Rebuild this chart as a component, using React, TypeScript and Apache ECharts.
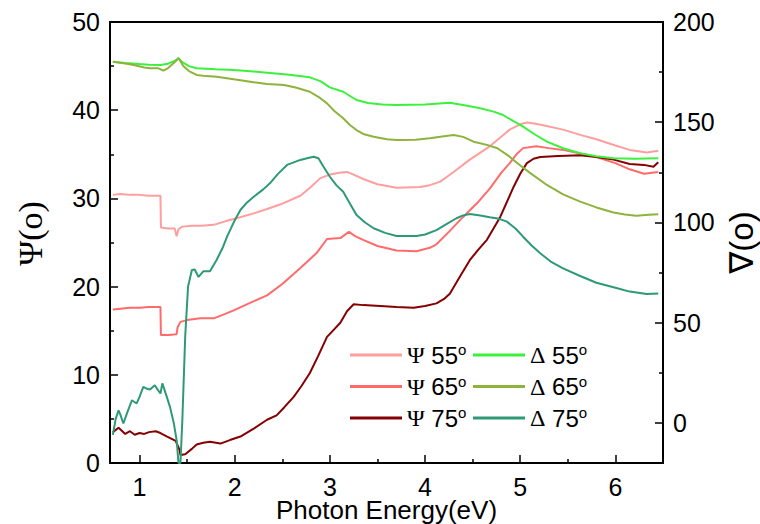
import React, { useEffect, useRef } from "react";
import * as echarts from "echarts";

// ---- data (x = photon energy eV, y = angle in degrees) ----
const psi55: number[][] = [[0.72,30.4],[0.8,30.5],[0.9,30.4],[1.0,30.4],[1.1,30.3],[1.22,30.3],[1.225,26.7],[1.3,26.6],[1.37,26.6],[1.39,25.7],[1.41,26.5],[1.45,26.8],[1.55,26.9],[1.65,26.9],[1.78,27.0],[1.9,27.4],[2.0,27.7],[2.2,28.3],[2.34,28.8],[2.5,29.4],[2.69,30.3],[2.8,31.3],[2.9,32.3],[3.0,32.7],[3.1,32.9],[3.18,33.0],[3.25,32.7],[3.35,32.2],[3.5,31.6],[3.7,31.2],[3.95,31.3],[4.05,31.5],[4.16,31.9],[4.3,33.0],[4.47,34.4],[4.68,35.9],[4.8,37.0],[4.89,37.8],[5.0,38.4],[5.07,38.6],[5.15,38.5],[5.24,38.3],[5.45,37.8],[5.63,37.2],[5.8,36.7],[6.0,36.0],[6.15,35.5],[6.33,35.2],[6.45,35.4]];
const psi65: number[][] = [[0.72,17.4],[0.8,17.5],[0.9,17.6],[1.0,17.6],[1.1,17.7],[1.22,17.7],[1.225,14.5],[1.3,14.5],[1.39,14.6],[1.4,15.4],[1.43,16.0],[1.5,16.2],[1.64,16.4],[1.78,16.4],[1.9,16.9],[1.99,17.3],[2.15,18.1],[2.34,19.0],[2.5,20.3],[2.69,22.1],[2.86,23.8],[2.97,25.4],[3.11,25.5],[3.2,26.2],[3.27,25.7],[3.35,25.3],[3.5,24.6],[3.7,24.1],[3.91,24.0],[4.05,24.4],[4.12,24.8],[4.25,26.2],[4.4,27.9],[4.55,29.5],[4.68,31.1],[4.8,32.9],[4.89,34.0],[4.96,35.0],[5.03,35.7],[5.17,35.9],[5.3,35.7],[5.45,35.5],[5.63,35.1],[5.8,34.7],[6.0,34.0],[6.15,33.3],[6.3,32.8],[6.45,33.0]];
const psi75: number[][] = [[0.72,3.5],[0.78,4.0],[0.85,3.3],[0.9,3.6],[0.95,3.2],[1.0,3.4],[1.05,3.3],[1.1,3.5],[1.17,3.6],[1.22,3.4],[1.29,3.0],[1.38,2.5],[1.42,1.5],[1.43,0.9],[1.48,1.0],[1.55,1.6],[1.6,2.1],[1.67,2.3],[1.74,2.4],[1.85,2.2],[1.95,2.6],[2.06,3.0],[2.2,3.9],[2.34,4.9],[2.44,5.4],[2.52,6.3],[2.62,7.5],[2.7,8.7],[2.79,10.2],[2.88,12.2],[2.97,14.3],[3.04,15.1],[3.11,15.9],[3.18,17.2],[3.25,18.0],[3.35,17.9],[3.53,17.8],[3.7,17.7],[3.88,17.6],[4.0,17.8],[4.12,18.1],[4.2,18.6],[4.26,19.2],[4.37,21.2],[4.47,23.0],[4.56,24.2],[4.65,25.3],[4.79,27.9],[4.93,31.3],[5.0,32.8],[5.07,34.0],[5.14,34.5],[5.21,34.7],[5.4,34.8],[5.63,34.9],[5.8,34.7],[5.98,34.4],[6.15,33.9],[6.3,33.8],[6.4,33.6],[6.45,34.1]];
const delta55: number[][] = [[0.72,180.2],[0.85,179.5],[1.0,179.0],[1.1,178.7],[1.22,178.5],[1.3,179.2],[1.38,180.8],[1.41,182.0],[1.45,180.0],[1.52,178.0],[1.6,176.9],[1.8,176.4],[1.99,176.0],[2.2,175.3],[2.34,174.7],[2.55,173.8],[2.79,172.4],[2.9,170.5],[3.0,167.4],[3.14,165.2],[3.28,161.1],[3.4,159.6],[3.55,158.9],[3.7,158.6],[4.0,158.9],[4.26,159.7],[4.4,158.6],[4.58,157.0],[4.72,155.3],[4.82,153.6],[4.93,150.5],[5.03,147.8],[5.15,144.0],[5.28,140.3],[5.45,137.0],[5.63,134.5],[5.8,133.0],[5.98,132.0],[6.2,131.8],[6.45,132.0]];
const delta65: number[][] = [[0.72,180.2],[0.85,179.3],[0.94,178.5],[1.05,177.3],[1.11,176.9],[1.2,176.9],[1.25,175.7],[1.3,177.0],[1.36,179.5],[1.41,181.9],[1.46,178.0],[1.52,175.5],[1.6,173.6],[1.7,173.0],[1.81,172.7],[1.99,171.4],[2.2,170.0],[2.34,169.1],[2.52,168.6],[2.65,167.2],[2.79,165.2],[2.9,162.0],[2.97,159.4],[3.05,155.5],[3.14,152.0],[3.21,148.6],[3.28,146.1],[3.36,144.0],[3.46,142.8],[3.6,141.5],[3.7,141.1],[3.9,141.3],[4.05,142.0],[4.2,143.0],[4.3,143.6],[4.4,142.7],[4.51,140.3],[4.65,138.7],[4.76,137.0],[4.87,133.5],[4.97,129.5],[5.11,124.5],[5.28,118.7],[5.45,114.0],[5.63,110.4],[5.8,107.5],[5.98,105.0],[6.1,104.0],[6.22,103.4],[6.35,103.8],[6.45,104.1]];
const delta75: number[][] = [[0.72,-6.0],[0.75,2],[0.78,6.3],[0.8,4],[0.83,-0.3],[0.87,5],[0.92,11.3],[0.97,9.7],[1.0,13],[1.04,18.0],[1.08,17],[1.11,16.7],[1.16,18.8],[1.2,16],[1.22,14.7],[1.24,19.7],[1.28,14],[1.32,8.0],[1.36,0],[1.39,-8.6],[1.41,-20],[1.43,-20],[1.45,1.3],[1.48,43.0],[1.51,68.0],[1.55,76.3],[1.58,76.5],[1.62,72.8],[1.67,75.6],[1.74,75.6],[1.81,81.3],[1.87,87],[1.92,92.9],[2.0,101],[2.06,106.2],[2.13,110],[2.2,112.8],[2.3,116.5],[2.37,119.5],[2.45,124],[2.55,128.7],[2.62,130],[2.69,131.2],[2.76,132.0],[2.83,132.8],[2.88,132],[2.93,128],[3.0,122.8],[3.07,118.5],[3.14,115.3],[3.21,109.5],[3.28,103.7],[3.37,100],[3.46,97.1],[3.58,94.8],[3.7,93.2],[3.91,93.2],[4.0,94.0],[4.12,96.2],[4.22,99],[4.33,102.1],[4.4,103.5],[4.47,104.2],[4.58,103.5],[4.68,102.6],[4.78,101.8],[4.86,100.4],[4.95,97],[5.03,92.9],[5.12,88.5],[5.21,84.6],[5.32,80.5],[5.45,77.1],[5.63,73.3],[5.8,69.9],[6.0,67.4],[6.15,65.5],[6.33,64.3],[6.45,64.6]];

const seriesNames = ["Ψ 55", "Ψ 65", "Ψ 75", "Δ 55", "Δ 65", "Δ 75"];
const xMajorTicks = [1, 2, 3, 4, 5, 6];
const xMinorTicks = [1.5, 2.5, 3.5, 4.5, 5.5];
const rightMajorTicks = [0, 50, 100, 150, 200];
const rightMinorTicks = [25, 75, 125, 175];

const SANS = "'Liberation Sans', Arial, 'DejaVu Sans', sans-serif";
const SERIF = "'Liberation Serif', 'Times New Roman', 'DejaVu Serif', serif";
const colors = ["#FF9E9E", "#FF6B6B", "#850000", "#3DF03D", "#8DB33C", "#2E9A75"];

export default function App() {
  const ref = useRef<HTMLDivElement>(null);
  useEffect(() => {
    if (!ref.current) return;
    const chart = echarts.init(ref.current, undefined, { renderer: "svg" });
    const datas = [psi55, psi65, psi75, delta55, delta65, delta75];
    const axisLine = { show: true, onZero: false, lineStyle: { color: "#000", width: 2 } };
    const legendText = {
      color: "#000",
      fontSize: 24,
      fontFamily: SANS,
      lineHeight: 26,
      rich: {
        g: { fontFamily: SERIF, fontSize: 24, color: "#000", lineHeight: 26 },
        n: { fontFamily: SANS, fontSize: 24, color: "#000", lineHeight: 26 },
        s: { fontFamily: SANS, fontSize: 15, color: "#000", verticalAlign: "top", lineHeight: 26 },
      },
    };
    const legendFmt = (name: string) => `{g|${name[0]}}{n|${name.slice(1)}}{s|o}`;
    const option: any = {
      animation: false,
      backgroundColor: "#fff",
      grid: { left: 110, right: 97, top: 22, bottom: 61, show: true, borderColor: "#000", borderWidth: 2, backgroundColor: "transparent", outerBoundsMode: "none", containLabel: false },
      legend: [
        { data: seriesNames.slice(0, 3), orient: "vertical", left: 345, top: 337, icon: "rect", itemWidth: 52, itemHeight: 3, itemGap: 5.5, textStyle: legendText, formatter: legendFmt },
        { data: seriesNames.slice(3), orient: "vertical", left: 468, top: 337, icon: "rect", itemWidth: 52, itemHeight: 3, itemGap: 5.5, textStyle: legendText, formatter: legendFmt },
      ],
      xAxis: [
        {
          type: "value", min: 0.69, max: 6.5, position: "bottom",
          axisLine,
          axisTick: { show: true, inside: true, length: 8, lineStyle: { color: "#000", width: 1.5 }, customValues: xMajorTicks },
          axisLabel: { customValues: xMajorTicks, color: "#000", fontSize: 25, fontFamily: SANS, margin: 11 },
          splitLine: { show: false },
          name: "Photon Energy(eV)", nameLocation: "middle", nameGap: 34, nameMoveOverlap: false,
          nameTextStyle: { color: "#000", fontSize: 26, fontFamily: SANS },
        },
        {
          type: "value", min: 0.69, max: 6.5, position: "bottom",
          axisLine: { show: false },
          axisTick: { show: true, inside: true, length: 4, lineStyle: { color: "#000", width: 1.5 }, customValues: xMinorTicks },
          axisLabel: { show: false }, splitLine: { show: false },
        },
      ],
      yAxis: [
        {
          type: "value", min: 0, max: 50, interval: 10, position: "left",
          axisLine,
          axisTick: { show: true, inside: true, length: 8, lineStyle: { color: "#000", width: 1.5 } },
          minorTick: { show: true, splitNumber: 2, length: 4, lineStyle: { color: "#000", width: 1.5 } },
          axisLabel: { color: "#000", fontSize: 25, fontFamily: SANS, margin: 10 },
          splitLine: { show: false }, minorSplitLine: { show: false },
          name: "Ψ(o)", nameLocation: "middle", nameGap: 63, nameRotate: 90, nameMoveOverlap: false,
          nameTextStyle: { color: "#000", fontSize: 34, fontFamily: SERIF, padding: [0, 0, 0, 18] },
        },
        {
          type: "value", min: -20, max: 200, position: "right",
          axisLine,
          axisTick: { show: true, inside: true, length: 8, lineStyle: { color: "#000", width: 1.5 }, customValues: rightMajorTicks },
          axisLabel: { customValues: rightMajorTicks, color: "#000", fontSize: 25, fontFamily: SANS, margin: 10 },
          splitLine: { show: false },
          name: "∇(o)", nameLocation: "middle", nameGap: 62, nameRotate: 90, nameMoveOverlap: false,
          nameTextStyle: { color: "#000", fontSize: 33, fontFamily: SANS },
        },
        {
          type: "value", min: -20, max: 200, position: "right",
          axisLine: { show: false },
          axisTick: { show: true, inside: true, length: 4, lineStyle: { color: "#000", width: 1.5 }, customValues: rightMinorTicks },
          axisLabel: { show: false }, splitLine: { show: false },
        },
      ],
      series: seriesNames.map((name, i) => ({
        name,
        type: "line",
        xAxisIndex: 0,
        yAxisIndex: i < 3 ? 0 : 1,
        data: datas[i],
        showSymbol: false,
        symbol: "none",
        smooth: false,
        clip: true,
        lineStyle: { color: colors[i], width: 2 },
        itemStyle: { color: colors[i] },
      })),
    };
    chart.setOption(option);
    return () => chart.dispose();
  }, []);
  return <div ref={ref} style={{ position: "fixed", left: 0, top: 0, width: 760, height: 524 }} />;
}
